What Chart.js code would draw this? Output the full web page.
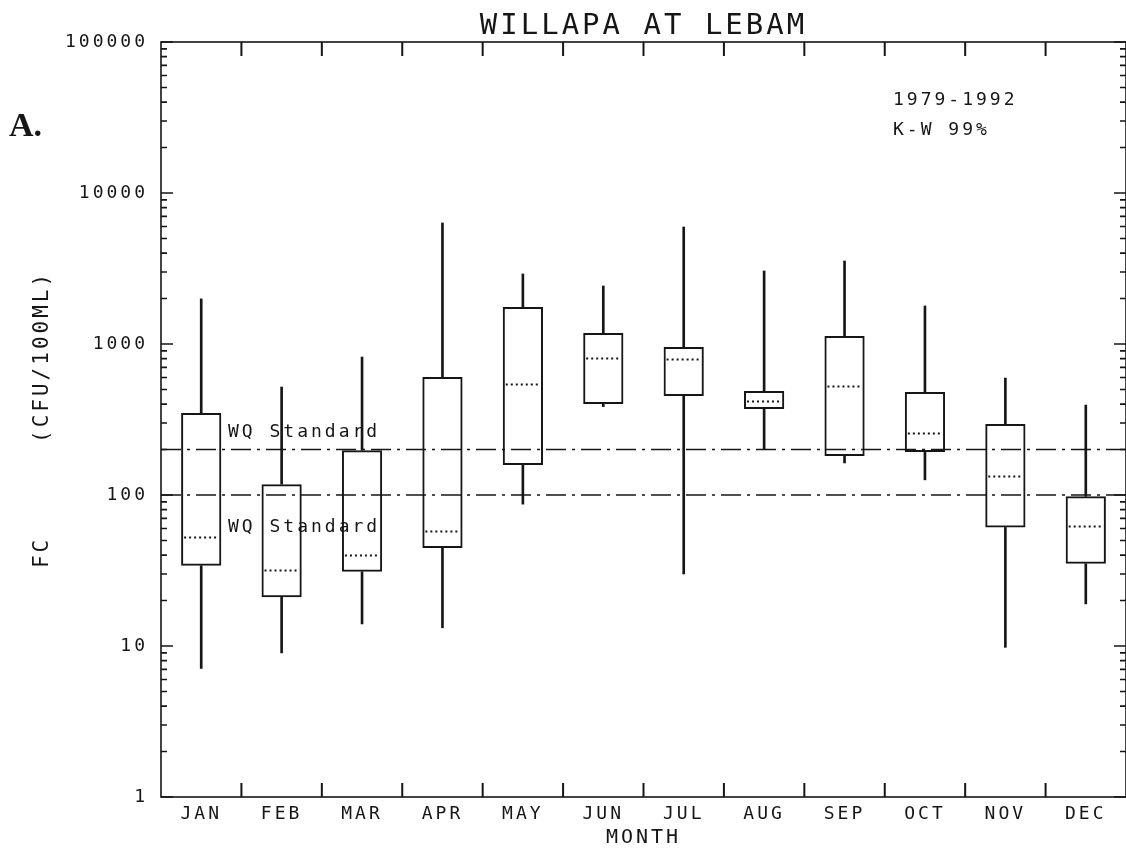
<!DOCTYPE html>
<html>
<head>
<meta charset="utf-8">
<title>Willapa at Lebam</title>
<script src="https://cdn.jsdelivr.net/npm/chart.js@4.4.1/dist/chart.umd.min.js"></script>
<style>
  html, body { margin: 0; padding: 0; background: #fff; }
  #wrap { width: 1126px; height: 852px; }
</style>
</head>
<body>
<div id="wrap"><canvas id="fcChart" width="1126" height="852"></canvas></div>
<script>
// Monthly FC box plots
const months = ['JAN', 'FEB', 'MAR', 'APR', 'MAY', 'JUN', 'JUL', 'AUG', 'SEP', 'OCT', 'NOV', 'DEC'];
const whiskerLow  = [7.1, 9.0, 14, 13.2, 87, 385, 30, 202, 163, 126, 9.8, 19];
const boxLow      = [34, 21, 31, 44.5, 158, 401, 453, 371, 181, 193, 61, 35];
const medians     = [53, 32, 40, 58, 543, 808, 797, 419, 527, 257, 134, 62];
const boxHigh     = [349, 118, 198, 605, 1758, 1183, 955, 488, 1130, 481, 295, 98];
const whiskerHigh = [1990, 519, 820, 6330, 2910, 2422, 5955, 3045, 3545, 1786, 595, 394];
const standards = [200, 100];   // WQ standard lines
const yTicks = [1, 10, 100, 1000, 10000, 100000];

const ink = '#161616';
const plotFont = "'DejaVu Sans Mono', 'Liberation Mono', monospace";

// frame, inward ticks, medians, standard lines and notes
const plotterPlugin = {
    id: 'plotter',
    beforeDraw(chart) {
        chart.ctx.letterSpacing = '3px';  // wide plotter lettering
    },
    afterDatasetsDraw(chart) {
        const ctx = chart.ctx;
        const area = chart.chartArea;
        const x = chart.scales.x;
        const y = chart.scales.y;
        ctx.save();
        ctx.strokeStyle = ink;
        ctx.fillStyle = ink;

        // median dotted lines
        const boxes = chart.getDatasetMeta(2).data;
        ctx.lineWidth = 2;
        ctx.setLineDash([2, 3]);
        boxes.forEach((bar, i) => {
            const py = Math.round(y.getPixelForValue(medians[i])) + 0.5;
            ctx.beginPath();
            ctx.moveTo(bar.x - bar.width / 2 + 3, py);
            ctx.lineTo(bar.x + bar.width / 2 - 3, py);
            ctx.stroke();
        });

        // WQ standard lines (dash-dot)
        ctx.lineWidth = 1.6;
        ctx.setLineDash([20, 6, 3, 6]);
        standards.forEach(v => {
            const py = y.getPixelForValue(v);
            ctx.beginPath();
            ctx.moveTo(area.left, py);
            ctx.lineTo(area.right, py);
            ctx.stroke();
        });
        ctx.setLineDash([]);

        ctx.font = '18px ' + plotFont;
        ctx.textBaseline = 'middle';
        ctx.textAlign = 'left';
        ctx.fillText('WQ Standard', area.left + 67, y.getPixelForValue(standards[0]) - 17);
        ctx.fillText('WQ Standard', area.left + 67, y.getPixelForValue(standards[1]) + 32);

        // frame
        ctx.lineWidth = 1.6;
        ctx.strokeRect(area.left, area.top, area.right - area.left, area.bottom - area.top);

        // month separator ticks, top and bottom
        ctx.lineWidth = 2;
        for (let i = 1; i < months.length; i++) {
            const px = (x.getPixelForValue(i - 1) + x.getPixelForValue(i)) / 2;
            ctx.beginPath();
            ctx.moveTo(px, area.top);
            ctx.lineTo(px, area.top + 14);
            ctx.moveTo(px, area.bottom);
            ctx.lineTo(px, area.bottom - 14);
            ctx.stroke();
        }

        // log ticks, left and right, pointing inward
        ctx.lineWidth = 1.6;
        yTicks.forEach(d => {
            for (let k = 1; k <= 9; k++) {
                const v = d * k;
                if (v > yTicks[yTicks.length - 1]) break;
                const py = y.getPixelForValue(v);
                const len = k === 1 ? 12 : 6;
                ctx.beginPath();
                ctx.moveTo(area.left, py);
                ctx.lineTo(area.left + len, py);
                ctx.moveTo(area.right, py);
                ctx.lineTo(area.right - len, py);
                ctx.stroke();
            }
        });

        // notes
        ctx.font = '18px ' + plotFont;
        ctx.fillText('1979-1992', 893, 100);
        ctx.fillText('K-W 99%', 893, 130);
        ctx.letterSpacing = '0px';
        ctx.font = "bold 34px 'Liberation Serif', 'DejaVu Serif', serif";
        ctx.fillText('A.', 9, 127);
        ctx.restore();
    }
};

const ctx = document.getElementById('fcChart').getContext('2d');

new Chart(ctx, {
    type: 'bar',
    data: {
        labels: months,
        datasets: [
            {   // lower whisker
                data: months.map((m, i) => [whiskerLow[i], boxLow[i]]),
                backgroundColor: ink,
                barThickness: 2,
                grouped: false,
                order: 3
            },
            {   // upper whisker
                data: months.map((m, i) => [boxHigh[i], whiskerHigh[i]]),
                backgroundColor: ink,
                barThickness: 2,
                grouped: false,
                order: 2
            },
            {   // boxes
                data: months.map((m, i) => [boxLow[i], boxHigh[i]]),
                backgroundColor: 'rgba(255,255,255,0)',
                borderColor: ink,
                borderWidth: 2,
                borderSkipped: false,
                barPercentage: 0.5,
                categoryPercentage: 1,
                grouped: false,
                order: 1
            }
        ]
    },
    options: {
        responsive: false,
        animation: false,
        devicePixelRatio: 1,
        layout: { padding: 0 },
        plugins: {
            legend: { display: false },
            tooltip: { enabled: false },
            title: {
                display: true,
                text: 'WILLAPA AT LEBAM',
                fullSize: false,
                color: ink,
                font: { family: plotFont, size: 29, weight: 'normal', lineHeight: 1 },
                padding: { top: 12, bottom: 1 }
            }
        },
        scales: {
            x: {
                type: 'category',
                offset: true,
                grid: { display: false },
                border: { display: false },
                ticks: { color: ink, font: { family: plotFont, size: 18 }, padding: -1, maxRotation: 0 },
                title: {
                    display: true,
                    text: 'MONTH',
                    color: ink,
                    font: { family: plotFont, size: 20 },
                    padding: { top: 0, bottom: 2 }
                },
                afterFit(scale) { scale.height = 55; }
            },
            y: {
                type: 'logarithmic',
                min: 1,
                max: 100000,
                grid: { display: false },
                border: { display: false },
                afterBuildTicks(scale) {
                    scale.ticks = yTicks.map(v => ({ value: v }));
                },
                ticks: {
                    color: ink,
                    font: { family: plotFont, size: 18 },
                    padding: 5,
                    callback: value => String(value)
                },
                title: {
                    display: true,
                    text: 'FC      (CFU/100ML)',
                    color: ink,
                    font: { family: plotFont, size: 21 },
                    padding: { top: 30, bottom: 0 }
                },
                afterFit(scale) { scale.width = 161; }
            }
        }
    },
    plugins: [plotterPlugin]
});
</script>
</body>
</html>
